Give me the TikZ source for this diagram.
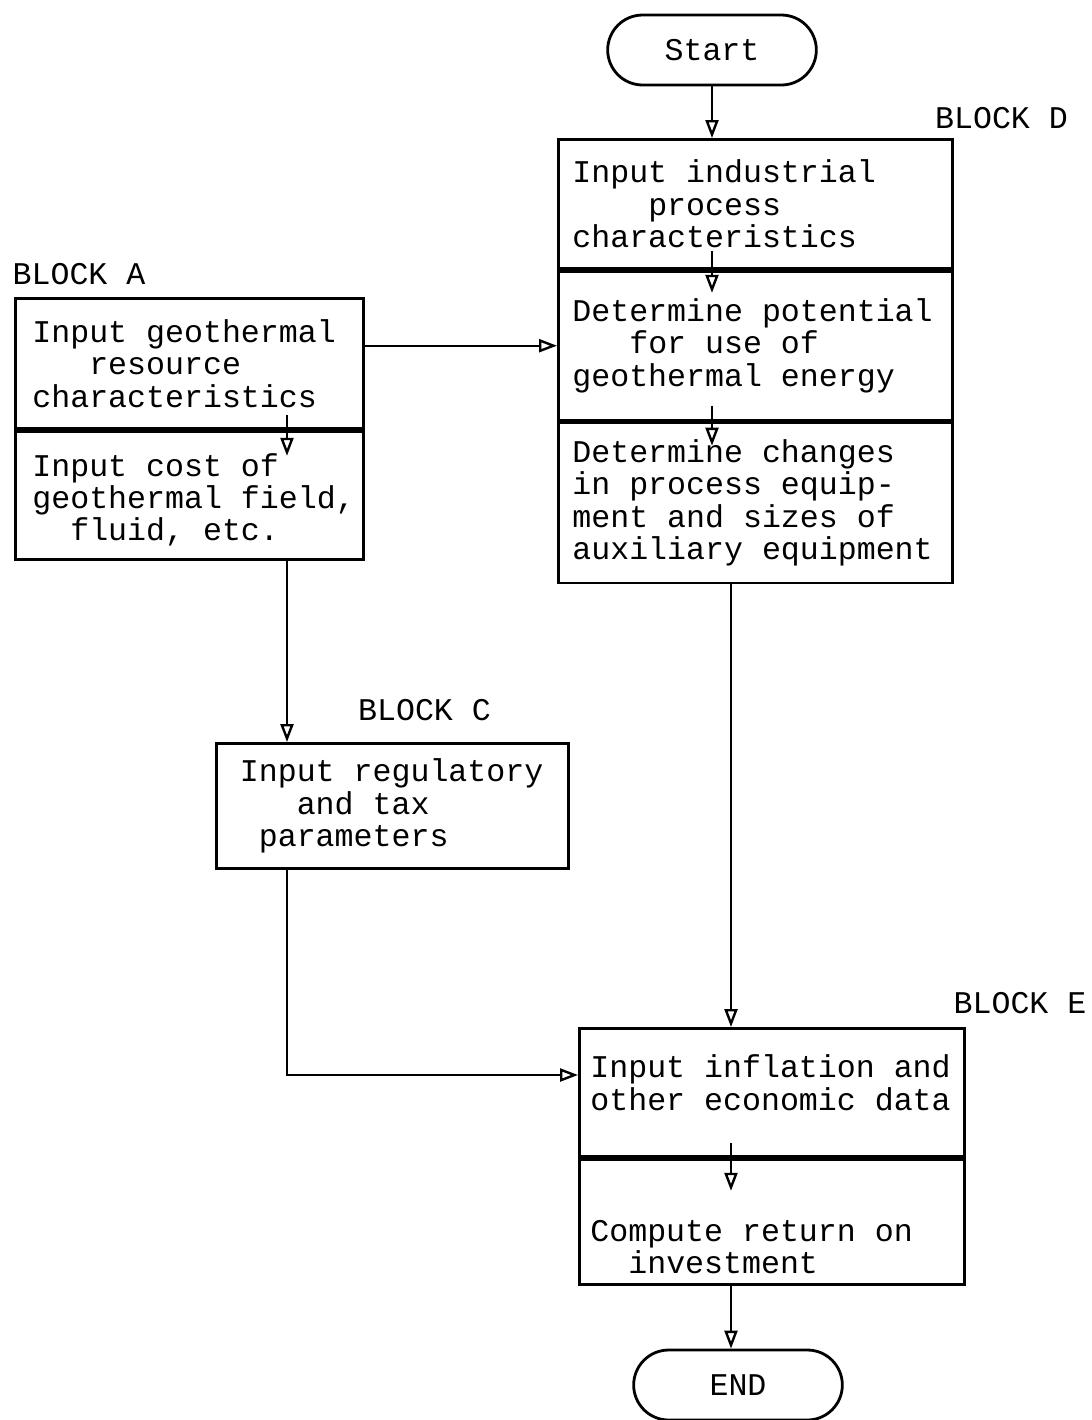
\documentclass[tikz,border=0pt]{standalone}
\usepackage{fontspec}
\setmonofont{Liberation Mono}
\usetikzlibrary{arrows.meta, positioning, shapes.misc, calc}
\newcommand{\ind}[1]{\hspace*{#1\fontcharwd\font`M}}
\newcommand{\typefont}[1]{\ttfamily\fontsize{#1}{16.2}\selectfont}
\newcommand{\fixspace}{\spaceskip=\fontcharwd\font`M\relax\xspaceskip=\spaceskip}

\begin{document}
\begin{tikzpicture}[x=1pt, y=1pt,
        font=\typefont{15.8},
        sub/.style={draw, line width=1.4pt, align=left, anchor=north west, inner xsep=7pt, inner ysep=0pt,
            execute at begin node=\fixspace},
        term/.style={draw, line width=1.4pt, rounded rectangle, minimum width=111pt, minimum height=35pt},
        lbl/.style={inner sep=0pt},
        arr/.style={line width=1.2pt, -{Triangle[open, length=9pt, width=6.5pt]}}]
        \useasboundingbox (0,0) rectangle (546,-710);
        \node[term] (start) at (356,-25) {Start};
        \node[sub, text width=183pt, minimum height=64.5pt] at (278.5,-69) (d1) {Input industrial\\\ind{4}process\\characteristics};
        \node[sub, text width=183pt, minimum height=74.5pt, below=0pt of d1] (d2) {Determine potential\\\ind{3}for use of\\geothermal energy};
        \node[sub, text width=183pt, minimum height=80pt, below=0pt of d2] (d3) {Determine changes\\in process equip-\\ment and sizes of\\auxiliary equipment};
        \node[sub, inner xsep=8.5pt, text width=157pt, minimum height=65pt] at (7,-148.5) (a1) {Input geothermal\\\ind{3}resource\\characteristics};
        \node[sub, inner xsep=8.5pt, text width=157pt, minimum height=64pt, below=0pt of a1] (a2) {\rule{0pt}{16pt}Input cost of\\\mbox{geothermal field,}\\\ind{2}fluid, etc.};
        \node[sub, inner xsep=11.75pt, text width=152.5pt, minimum height=62.5pt] at (107.5,-371) (c) {Input regulatory\\\ind{3}and tax\\\ind{1}parameters};
        \node[sub, inner xsep=5.5pt, text width=181.5pt, minimum height=64pt] at (289,-513.5) (e1) {Input inflation and\\other economic data\rule[-10pt]{0pt}{10pt}};
        \node[sub, inner xsep=5.5pt, text width=181.5pt, minimum height=62.5pt, below=0pt of e1] (e2) {\rule{0pt}{36pt}Compute return on\\\ind{2}investment};
        \node[term] (stop) at (369,-692.5) {END};
        \node[lbl] at (39.5,-137) (la) {BLOCK A};
        \node[lbl] at (500.75,-59) (ld) {BLOCK D};
        \node[lbl] at (212.25,-355) (lc) {BLOCK C};
        \node[lbl] at (510,-501.5) (le) {BLOCK E};
        \coordinate (ax) at (143.5,0);
        \coordinate (dx) at (365.5,0);
        \coordinate (ey) at (0,-537.5);
        \draw[arr] (start.south) -- (start.south |- d1.north);
        \draw[arr] ($(d1.south -| start)+(0,9.5)$) -- ($(d1.south -| start)+(0,-11.5)$);
        \draw[arr] ($(d2.south -| start)+(0,8)$) -- ($(d2.south -| start)+(0,-12)$);
        \draw[arr] (a1.east |- d2.west) -- (d2.west);
        \draw[arr] ($(a1.south -| ax)+(0,7.5)$) -- ($(a1.south -| ax)+(0,-13)$);
        \draw[arr] (a2.south -| ax) -- (c.north -| ax);
        \draw[arr] (c.south -| ax) -- (ey -| ax) -- (ey -| e1.west);
        \draw[arr] (d3.south -| dx) -- (e1.north -| dx);
        \draw[arr] ($(e1.south -| dx)+(0,7.5)$) -- ($(e1.south -| dx)+(0,-16.5)$);
        \draw[arr] (e2.south -| dx) -- (stop.north -| dx);
    \end{tikzpicture}
\end{document}
